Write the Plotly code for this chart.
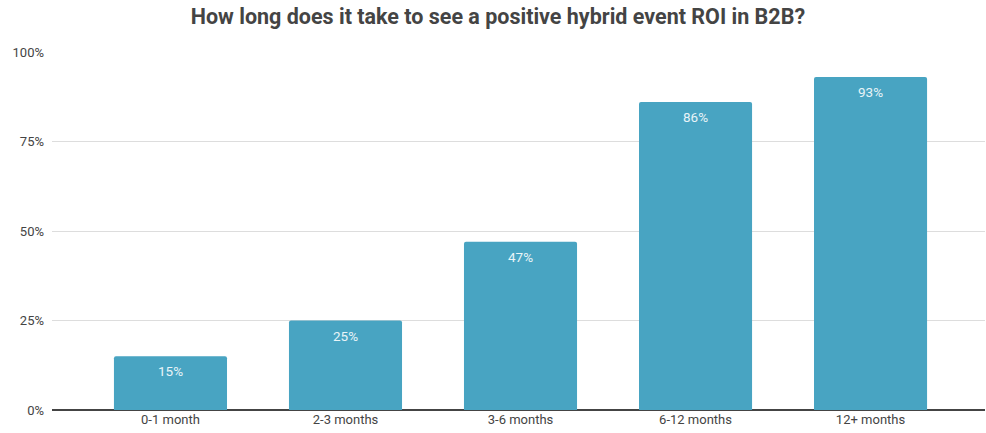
import plotly.graph_objects as go

categories = ["0-1 month", "2-3 months", "3-6 months", "6-12 months", "12+ months"]
values = [15, 25, 47, 86, 93]
labels = ["15%", "25%", "47%", "86%", "93%"]
tick_vals = [0, 25, 50, 75, 100]
tick_text = ["0%", "25%", "50%", "75%", "100%"]

fig = go.Figure(go.Bar(
    x=categories, y=values,
    marker=dict(color="#48a4c2", line=dict(width=0), cornerradius=2),
    width=0.646,
    hoverinfo="x+y",
))
for c, v, t in zip(categories, values, labels):
    fig.add_annotation(x=c, y=v, text=t, showarrow=False, yanchor="top", yshift=-5,
                       font=dict(family="Roboto", size=13.5, color="#e9f4f8"))

fig.update_layout(
    width=986, height=433,
    margin=dict(l=52, r=1, t=52, b=23),
    paper_bgcolor="white", plot_bgcolor="white",
    title=dict(text="<b>How long does it take to see a positive hybrid event ROI in B2B?</b>",
               x=0.505, xanchor="center", y=0.962, yanchor="middle",
               font=dict(family="Roboto", size=21.5, color="#444444")),
    font=dict(family="Roboto", size=13, color="#444444"),
    showlegend=False,
    xaxis=dict(range=[-0.677, 4.654], showgrid=False, ticks="", showline=False,
               tickfont=dict(size=13, color="#444444")),
    yaxis=dict(range=[0, 100], tickvals=tick_vals, ticktext=tick_text,
               showgrid=True, gridcolor="#dddddd", gridwidth=1,
               zeroline=True, zerolinecolor="#444444", zerolinewidth=1.5,
               ticks="", ticklabelstandoff=7, tickfont=dict(size=13, color="#444444")),
)
# remove the page's default 8px body margin so the figure fills the window exactly
fig.write_html("out.html",
               config={"displayModeBar": False},
               post_script="document.body.style.margin='0';document.body.style.overflow='hidden';")
